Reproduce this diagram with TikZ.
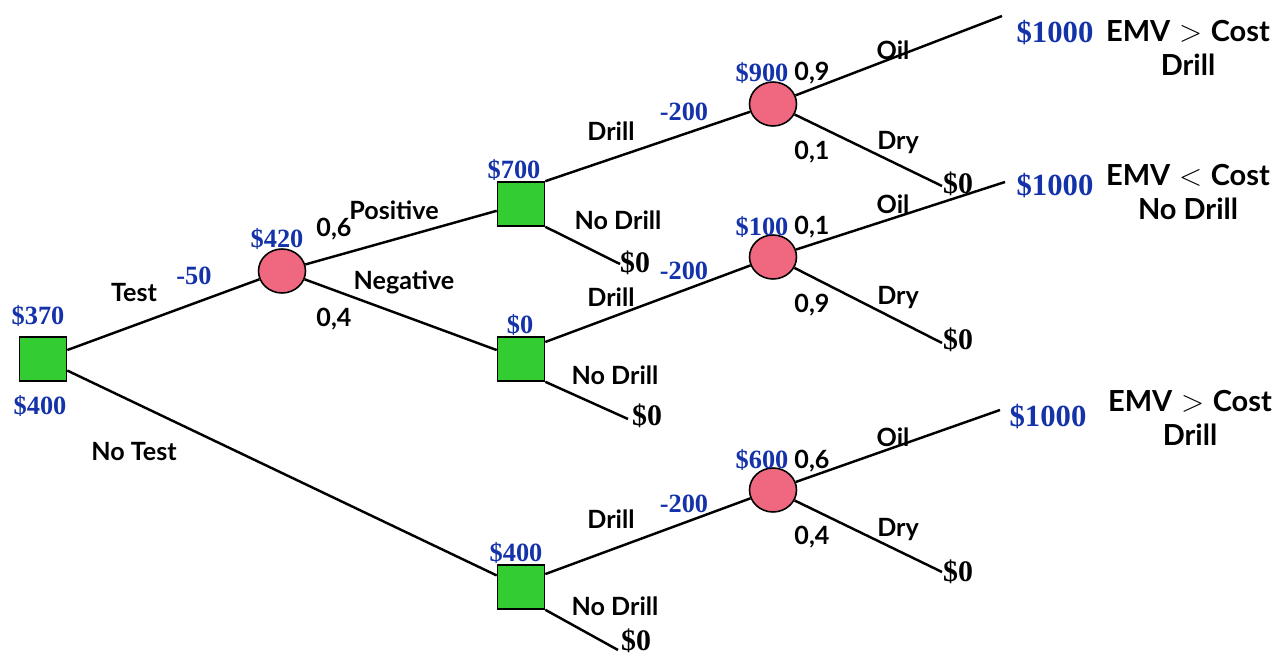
\documentclass[tikz,border=0pt]{standalone}
\usepackage{fontspec}
\setmainfont{Liberation Serif}
\newfontfamily\lblfont{Lato}
\usetikzlibrary{shapes.geometric}
\definecolor{decgreen}{RGB}{51,204,51}
\definecolor{chancepink}{RGB}{240,104,128}
\definecolor{valblue}{RGB}{20,50,170}
\tikzset{
  decision/.style={draw, fill=decgreen, line width=0.9pt, minimum width=0.94cm, minimum height=0.88cm, inner sep=0pt},
  chance/.style={ellipse, draw, fill=chancepink, line width=0.9pt, minimum width=0.94cm, minimum height=0.88cm, inner sep=0pt},
  branch/.style={line width=1.4pt},
  val/.style={text=valblue, font=\bfseries\fontsize{15}{17}\selectfont, inner sep=0pt},
  payoff/.style={text=valblue, font=\bfseries\fontsize{17.5}{20}\selectfont, inner sep=0pt},
  zero/.style={font=\bfseries\fontsize{17}{20}\selectfont, inner sep=0pt},
  lbl/.style={font=\lblfont\bfseries\fontsize{14.3}{16}\selectfont, inner sep=0pt},
  note/.style={font=\lblfont\bfseries\fontsize{16.5}{19}\selectfont, inner sep=0pt, align=center},
}
\begin{document}
\begin{tikzpicture}[x=0.02cm,y=-0.02cm]
\useasboundingbox (0,0) rectangle (1279,655);
% decision and chance nodes
\node[decision] (test) at (43,359) {};
\node[chance] (survey) at (282,271) {};
\node[decision] (pos) at (521,204) {};
\node[decision] (neg) at (521,359) {};
\node[decision] (notest) at (521,587) {};
\node[chance] (wellpos) at (773,104) {};
\node[chance] (wellneg) at (773,257) {};
\node[chance] (wellno) at (773,490) {};
% free ends
\coordinate (posdry) at (620,264);
\coordinate (negdry) at (628,419);
\coordinate (nodry) at (618,650);
\coordinate (poil) at (1002,16);
\coordinate (pdry) at (942,186);
\coordinate (noil) at (1005,182);
\coordinate (ndry) at (942,343);
\coordinate (xoil) at (1000,410);
\coordinate (xdry) at (942,572);
% branches
\draw[branch] (test) -- (survey);
\draw[branch] (test) -- (notest);
\draw[branch] (survey) -- (pos);
\draw[branch] (survey) -- (neg);
\draw[branch] (pos.north east) -- (wellpos);
\draw[branch] (pos.south east) -- (posdry);
\draw[branch] (neg.35) -- (wellneg);
\draw[branch] (neg.south east) -- (negdry);
\draw[branch] (notest.28) -- (wellno);
\draw[branch] (notest.south east) -- (nodry);
\draw[branch] (wellpos) -- (poil);
\draw[branch] (wellpos) -- (pdry);
\draw[branch] (wellneg) -- (noil);
\draw[branch] (wellneg) -- (ndry);
\draw[branch] (wellno) -- (xoil);
\draw[branch] (wellno) -- (xdry);
% values
\node[val] (v370) at (38,316) {\$370};
\node[val] (v400) at (40,406) {\$400};
\node[val] (vtest) at (194,276) {-50};
\node[val] (v420) at (277,239) {\$420};
\node[val] (v700) at (514,170) {\$700};
\node[val] (v0) at (520,325) {\$0};
\node[val] (v400b) at (516,553) {\$400};
\node[val] (cpos) at (684,112) {-200};
\node[val] (cneg) at (684,271) {-200};
\node[val] (cno) at (684,504) {-200};
\node[val] (v900) at (762,73) {\$900};
\node[val] (v100) at (762,227) {\$100};
\node[val] (v600) at (762,460) {\$600};
\node[payoff] (p1) at (1055,33) {\$1000};
\node[payoff] (p2) at (1055,186) {\$1000};
\node[payoff] (p3) at (1048,417) {\$1000};
\node[zero] (z1) at (635,263) {\$0};
\node[zero] (z2) at (647,416) {\$0};
\node[zero] (z3) at (636,641) {\$0};
\node[zero] (z4) at (958,184) {\$0};
\node[zero] (z5) at (958,340) {\$0};
\node[zero] (z6) at (958,572) {\$0};
% branch labels
\node[lbl] (ltest) at (134,293) {Test};
\node[lbl] (lnotest) at (134,452) {No Test};
\node[lbl] (q6) at (334,229) {0,6};
\node[lbl] (q4) at (334,319) {0,4};
\node[lbl] (lpos) at (394,210) {Positive};
\node[lbl] (lneg) at (404,282) {Negative};
\node[lbl] (d1) at (611,131) {Drill};
\node[lbl] (nd1) at (618,220) {No Drill};
\node[lbl] (d2) at (611,297) {Drill};
\node[lbl] (nd2) at (615,375) {No Drill};
\node[lbl] (d3) at (611,519) {Drill};
\node[lbl] (nd3) at (615,606) {No Drill};
\node[lbl] (r1) at (812,73) {0,9};
\node[lbl] (r2) at (812,152) {0,1};
\node[lbl] (r3) at (812,227) {0,1};
\node[lbl] (r4) at (812,305) {0,9};
\node[lbl] (r5) at (812,461) {0,6};
\node[lbl] (r6) at (812,537) {0,4};
\node[lbl] (o1) at (893,50) {Oil};
\node[lbl] (o2) at (893,204) {Oil};
\node[lbl] (o3) at (893,437) {Oil};
\node[lbl] (y1) at (898,143) {Dry};
\node[lbl] (y2) at (898,298) {Dry};
\node[lbl] (y3) at (898,530) {Dry};
% decisions
\node[note] (n1) at (1188,48) {EMV\hspace{0.3em}$>$\hspace{0.3em}Cost\\Drill};
\node[note] (n2) at (1188,192) {EMV\hspace{0.3em}$<$\hspace{0.3em}Cost\\No Drill};
\node[note] (n3) at (1190,418) {EMV\hspace{0.3em}$>$\hspace{0.3em}Cost\\Drill};
\end{tikzpicture}
\end{document}
